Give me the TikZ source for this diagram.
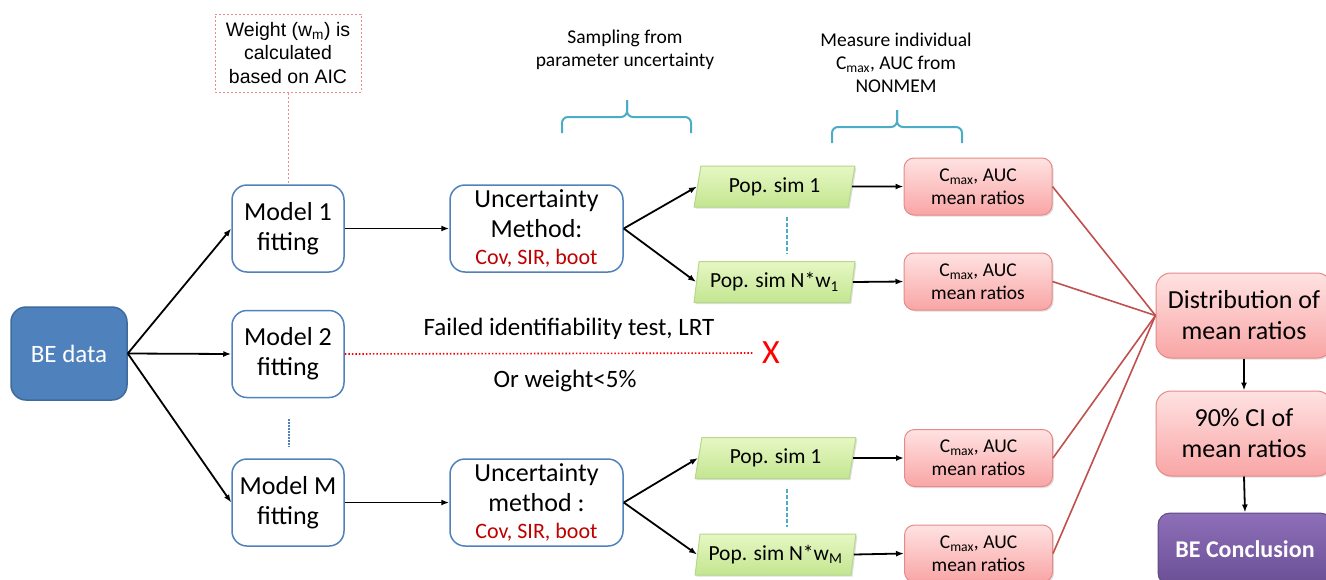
\documentclass[tikz,border=0pt]{standalone}
\usepackage{fontspec}
\setmainfont{Carlito}
\newfontfamily\arialfont{Liberation Sans}
\usetikzlibrary{shapes.geometric,arrows.meta,shadows}
\definecolor{boxblue}{HTML}{4F81BD}
\definecolor{bedark}{HTML}{3E6A9E}
\definecolor{bracecol}{HTML}{4BACC6}
\definecolor{covred}{HTML}{C00000}
\definecolor{linkred}{HTML}{C0504D}
\definecolor{pinktop}{HTML}{FFE2E2}
\definecolor{pinkbot}{HTML}{F9A5A5}
\definecolor{pinkbd}{HTML}{E58A88}
\definecolor{greentop}{HTML}{E6F7C4}
\definecolor{greenbot}{HTML}{C3E690}
\definecolor{greenbd}{HTML}{B5D88A}
\definecolor{purtop}{HTML}{8E6FB8}
\definecolor{purbot}{HTML}{6A4F95}
\definecolor{purbd}{HTML}{5E4A8A}
\definecolor{weightbd}{HTML}{EE8A8A}
\tikzset{
  modelbox/.style={draw=boxblue, line width=1.5pt, fill=white, rounded corners=15pt,
    minimum width=112pt, minimum height=87pt, align=center, inner sep=0pt,
    font=\fontsize{26}{30}\selectfont},
  uncbox/.style={modelbox, minimum width=173pt},
  popsim/.style={trapezium, trapezium left angle=77, trapezium right angle=103,
    trapezium stretches=true, minimum width=161pt, minimum height=41pt,
    draw=greenbd, line width=1pt, top color=greentop, bottom color=greenbot,
    font=\fontsize{21.5}{25}\selectfont, inner sep=0pt,
    drop shadow={shadow xshift=1.5pt, shadow yshift=-1.5pt, opacity=0.25}},
  cmaxbox/.style={rounded corners=10pt, draw=pinkbd, line width=1pt,
    top color=pinktop, bottom color=pinkbot, minimum width=148pt, minimum height=57pt,
    align=center, inner sep=0pt, font=\fontsize{19.5}{23}\selectfont,
    drop shadow={shadow xshift=1.5pt, shadow yshift=-1.5pt, opacity=0.25}},
  bigbox/.style={cmaxbox, rounded corners=15pt, minimum width=176pt, minimum height=85pt,
    font=\fontsize{26}{31}\selectfont},
  arr/.style={-{Latex[length=8pt,width=6pt]}, line width=1.8pt},
  redlink/.style={draw=linkred, line width=1.6pt},
  bracestyle/.style={draw=bracecol, line width=2pt, rounded corners=6pt},
  note/.style={align=center, font=\fontsize{19.5}{23}\selectfont},
}
\begin{document}
\begin{tikzpicture}[x=1pt, y=-1pt]
\useasboundingbox (0,0) rectangle (1326,579);

% BE data
\node[draw=bedark, line width=1.5pt, fill=boxblue, rounded corners=15pt,
  minimum width=116pt, minimum height=93pt, text=white,
  font=\fontsize{25}{30}\selectfont] (BE) at (69,353.5) {BE data};

% model boxes
\node[modelbox] (M1) at (288,228.5) {Model 1\\fitting};
\node[modelbox] (M2) at (288,354) {Model 2\\fitting};
\node[modelbox] (MM) at (288,502.5) {Model M\\fitting};

% weight note
\node[draw=weightbd, dash pattern=on 2pt off 2pt, line width=1pt,
  minimum width=146pt, minimum height=78pt, align=center, inner sep=0pt,
  font=\arialfont\fontsize{19.5}{23.5}\selectfont] (W) at (288,53)
  {Weight (w\textsubscript{m}) is\\calculated\\based on AIC};
\draw[draw=weightbd, dash pattern=on 2pt off 2pt, line width=1pt] (W.south) -- (M1.north);

% uncertainty boxes
\node[uncbox] (U1) at (536.5,228.5) {Uncertainty\\Method:\\[-3pt]{\color{covred}\fontsize{22}{24}\selectfont Cov, SIR, boot}};
\node[uncbox] (U2) at (536.5,502.5) {Uncertainty\\method :\\[-3pt]{\color{covred}\fontsize{22}{24}\selectfont Cov, SIR, boot}};

% population simulations
\node[popsim] (P1) at (774.5,186.5) {Pop. sim 1};
\node[popsim] (P2) at (774.5,282) {Pop. sim N*w\textsubscript{1}};
\node[popsim] (P3) at (775.5,458) {Pop. sim 1};
\node[popsim] (P4) at (775.5,554.5) {Pop. sim N*w\textsubscript{M}};

% Cmax boxes
\node[cmaxbox] (C1) at (978,186.5) {C\textsubscript{max}, AUC\\mean ratios};
\node[cmaxbox] (C2) at (978,281.5) {C\textsubscript{max}, AUC\\mean ratios};
\node[cmaxbox] (C3) at (978.5,458) {C\textsubscript{max}, AUC\\mean ratios};
\node[cmaxbox] (C4) at (978.5,553.5) {C\textsubscript{max}, AUC\\mean ratios};

% right column
\node[bigbox] (D) at (1244,315.5) {Distribution of\\mean ratios};
\node[bigbox] (CI) at (1244,433.5) {90\% CI of\\mean ratios};
\node[draw=purbd, line width=1pt, top color=purtop, bottom color=purbot,
  rounded corners=12pt, minimum width=174pt, minimum height=72pt, text=white,
  font=\bfseries\fontsize{24}{28}\selectfont,
  drop shadow={shadow xshift=1.5pt, shadow yshift=-1.5pt, opacity=0.25}] (BEC) at (1245,549) {BE Conclusion};

% arrows
\draw[arr] (BE.east) -- (M1.west);
\draw[arr] (BE.east) -- (M2.west);
\draw[arr] (BE.east) -- (MM.west);
\draw[arr] (M1.east) -- (U1.west);
\draw[arr] (MM.east) -- (U2.west);
\draw[arr] (U1.east) -- (P1.west);
\draw[arr] (U1.east) -- (P2.west);
\draw[arr] (U2.east) -- (P3.west);
\draw[arr] (U2.east) -- (P4.west);
\draw[arr] (P1.east) -- (C1.west);
\draw[arr] (P2.east) -- (C2.west);
\draw[arr] (P3.east) -- (C3.west);
\draw[arr] (P4.east) -- (C4.west);
\draw[arr] (D.south) -- (CI.north);
\draw[arr] (CI.south) -- (BEC.north);

% red links
\draw[redlink] (C1.east) -- (D.west);
\draw[redlink] (C2.east) -- (D.west);
\draw[redlink] (C3.east) -- (D.west);
\draw[redlink] (C4.east) -- (D.west);

% failed model 2
\node[text=red, font=\fontsize{34}{36}\selectfont, inner sep=0pt] (X) at (771,353) {X};
\draw[red, line width=1.6pt, dash pattern=on 1.5pt off 2pt] (M2.east) -- ([xshift=-8pt]X.west);
\node[font=\fontsize{25}{28}\selectfont, anchor=base] (F) at (569,335) {Failed identifiability test, LRT};
\node[font=\fontsize{25}{28}\selectfont, anchor=base] (O) at (565,387) {Or weight<5\%};

% ellipsis lines
\draw[boxblue, line width=1.2pt, dash pattern=on 1.5pt off 1.5pt] (289,419) -- (289,447);
\draw[bracecol, line width=1.5pt, dash pattern=on 4pt off 2pt] (787,217) -- (787,254);
\draw[bracecol, line width=1.5pt, dash pattern=on 4pt off 2pt] (787,489) -- (787,527);

% braces
\draw[bracestyle] (562,133) -- (562,117) -- (627,117) -- (627,100);
\draw[bracestyle] (691,133) -- (691,117) -- (627,117) -- (627,100);
\draw[bracestyle] (832,143) -- (832,127) -- (897,127) -- (897,110);
\draw[bracestyle] (962,143) -- (962,127) -- (897,127) -- (897,110);

% notes
\node[note] (S) at (625,50) {Sampling from\\parameter uncertainty};
\node[note] (N) at (896,63) {Measure individual\\C\textsubscript{max}, AUC from\\NONMEM};
\end{tikzpicture}
\end{document}
